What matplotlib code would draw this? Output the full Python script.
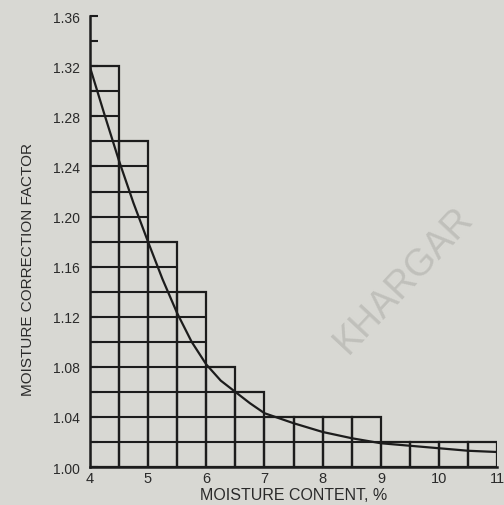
import matplotlib.pyplot as plt
import numpy as np

plt.rcParams['font.family'] = ['Liberation Sans', 'DejaVu Sans']

# bars, 0.5 wide each, from 4 to 11
bar_left = [4.0, 4.5, 5.0, 5.5, 6.0, 6.5, 7.0, 7.5, 8.0, 8.5, 9.0, 9.5, 10.0, 10.5]
bar_top = [1.32, 1.26, 1.18, 1.14, 1.08, 1.06, 1.04, 1.04, 1.04, 1.04, 1.02, 1.02, 1.02, 1.02]

# curve
curve_x = [4.0, 4.25, 4.5, 4.75, 5.0, 5.25, 5.5, 5.75, 6.0, 6.25, 6.5, 6.75, 7.0,
           7.5, 8.0, 8.5, 9.0, 9.5, 10.0, 10.5, 11.0]
curve_y = [1.32, 1.282, 1.245, 1.211, 1.180, 1.150, 1.123, 1.100, 1.082, 1.069, 1.060,
           1.051, 1.043, 1.035, 1.028, 1.023, 1.019, 1.017, 1.015, 1.013, 1.012]

y_ticks = [1.00, 1.04, 1.08, 1.12, 1.16, 1.20, 1.24, 1.28, 1.32, 1.36]
x_ticks = [4, 5, 6, 7, 8, 9, 10, 11]

paper = '#d8d8d3'
ink = '#1c1c1c'
txt = '#2a2a2a'

fig = plt.figure(figsize=(5.04, 5.06), dpi=100, facecolor=paper)
ax = fig.add_axes([0.178, 0.075, 0.809, 0.891], facecolor=paper)

# bars with the grid drawn inside them
ax.bar(bar_left, np.array(bar_top) - 1.0, width=0.5, bottom=1.0, align='edge',
       facecolor='none', edgecolor=ink, linewidth=1.6, zorder=2)
for left, top in zip(bar_left, bar_top):
    levels = np.arange(1.02, top - 0.001, 0.02)
    ax.hlines(levels, left, left + 0.5, color=ink, linewidth=1.5, zorder=2)

ax.plot(curve_x, curve_y, color=ink, linewidth=1.6, zorder=3)

# faint stamp showing through
ax.text(9.4, 1.15, 'KHARGAR', rotation=47, fontsize=27, color='#c0c0bb',
        ha='center', va='center', zorder=1)

ax.set_xlim(4, 11)
ax.set_ylim(1.00, 1.36)
ax.set_xticks(x_ticks)
ax.set_yticks(y_ticks)
ax.set_yticklabels(['%.2f' % v for v in y_ticks])
ax.set_yticks(np.arange(1.02, 1.36, 0.04), minor=True)

for s in ['top', 'right']:
    ax.spines[s].set_visible(False)
ax.spines['left'].set_linewidth(1.8)
ax.spines['bottom'].set_linewidth(1.8)
ax.spines['left'].set_color(ink)
ax.spines['bottom'].set_color(ink)

ax.tick_params(axis='y', direction='in', length=6, width=1.5, color=ink,
               labelsize=10, labelcolor=txt, pad=7)
ax.tick_params(axis='y', which='minor', direction='in', length=6, width=1.5, color=ink)
ax.tick_params(axis='x', length=0, labelsize=10.5, labelcolor=txt, pad=3)

ax.set_xlabel('MOISTURE CONTENT, %', fontsize=11.5, color=txt, labelpad=1)
ax.set_ylabel('MOISTURE CORRECTION FACTOR', fontsize=11, color=txt)
ax.yaxis.set_label_coords(-0.135, 0.44)

fig.savefig('out.png', dpi=100, facecolor=paper)
